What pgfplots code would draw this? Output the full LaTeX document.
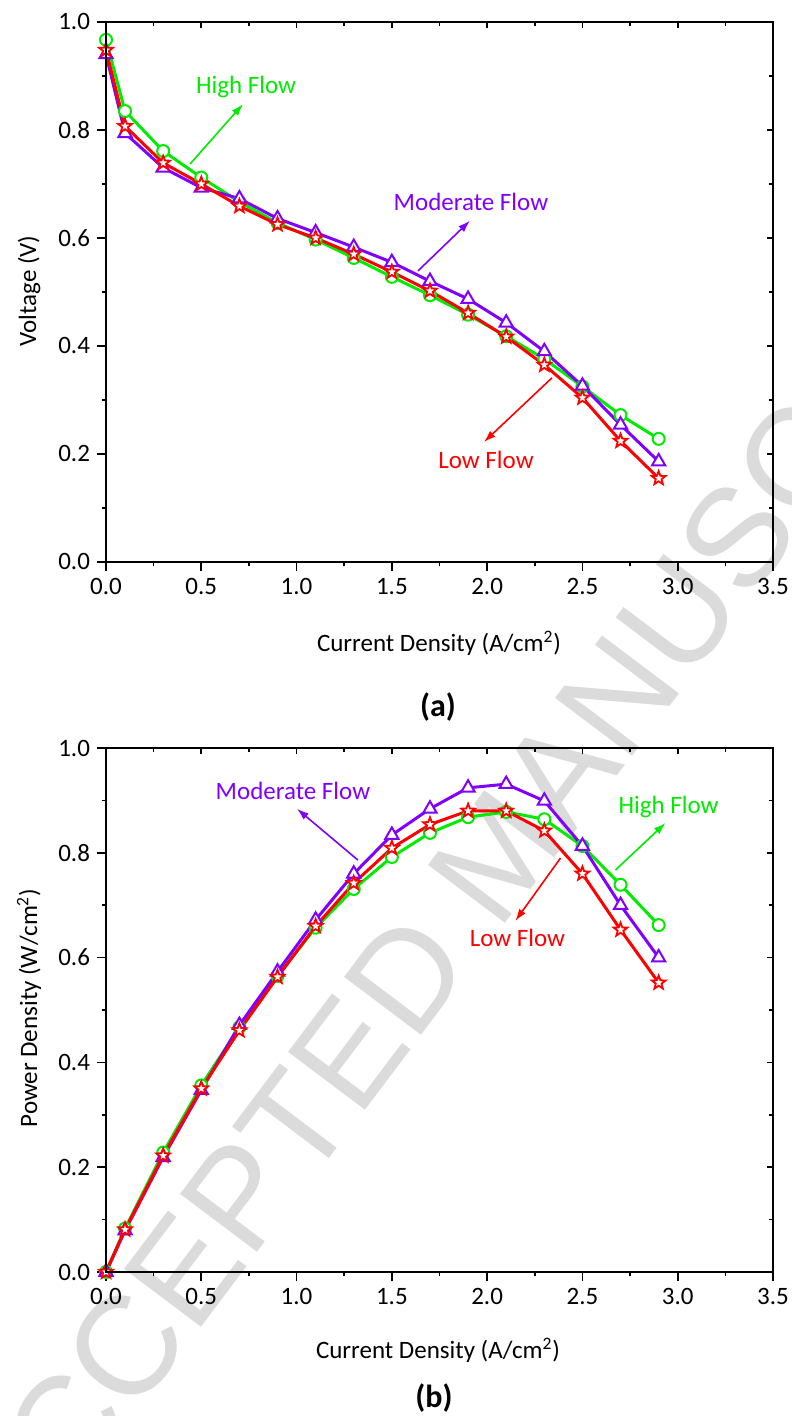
\documentclass[border=0pt]{standalone}
\usepackage{pgfplots}
\pgfplotsset{compat=1.18}
\usepackage{fontspec}
\setmainfont{Carlito}
\newfontfamily\wmfont{Liberation Sans}
\usetikzlibrary{arrows.meta}

\definecolor{gc}{RGB}{0,235,0}
\definecolor{pc}{RGB}{128,0,255}
\definecolor{rc}{RGB}{255,0,0}
\newcommand\lblfont{\fontsize{12.5}{15}\selectfont}

% outlined five-pointed star
\pgfdeclareplotmark{ostar}{%
  \pgfpathmoveto{\pgfpointpolar{90}{\pgfplotmarksize}}%
  \pgfpathlineto{\pgfpointpolar{126}{0.42\pgfplotmarksize}}%
  \pgfpathlineto{\pgfpointpolar{162}{\pgfplotmarksize}}%
  \pgfpathlineto{\pgfpointpolar{198}{0.42\pgfplotmarksize}}%
  \pgfpathlineto{\pgfpointpolar{234}{\pgfplotmarksize}}%
  \pgfpathlineto{\pgfpointpolar{270}{0.42\pgfplotmarksize}}%
  \pgfpathlineto{\pgfpointpolar{306}{\pgfplotmarksize}}%
  \pgfpathlineto{\pgfpointpolar{342}{0.42\pgfplotmarksize}}%
  \pgfpathlineto{\pgfpointpolar{18}{\pgfplotmarksize}}%
  \pgfpathlineto{\pgfpointpolar{54}{0.42\pgfplotmarksize}}%
  \pgfpathclose
  \pgfusepathqfillstroke
}

\tikzset{ann/.style={line width=0.8pt, -{Latex[length=6pt,width=4pt]}}}

\pgfplotsset{
  fcbase/.style={
    scale only axis,
    width=333.5pt,
    xmin=0, xmax=3.5, ymin=0, ymax=1,
    xtick={0,0.5,1,1.5,2,2.5,3,3.5},
    ytick={0,0.2,0.4,0.6,0.8,1},
    minor x tick num=1, minor y tick num=1,
    axis line style={line width=1pt},
    tick style={black, line width=0.8pt},
    tick label style={font=\lblfont},
  },
  fcmain/.style={
    fcbase,
    xticklabels={0.0,0.5,1.0,1.5,2.0,2.5,3.0,3.5},
    yticklabels={0.0,0.2,0.4,0.6,0.8,1.0},
    xtick pos=bottom, ytick pos=left,
    tick align=outside,
    major tick length=4.5pt, minor tick length=2.2pt,
  },
  fcover/.style={
    fcbase,
    xticklabels={}, yticklabels={},
    xtick pos=top, ytick pos=right,
    tick align=inside,
    major tick length=2.8pt, minor tick length=1.8pt,
  },
  hi/.style={gc, line width=1.5pt, mark=*, mark size=3pt,
    mark options={fill=white, line width=1pt, solid}},
  mo/.style={pc, line width=1.5pt, mark=triangle*, mark size=3.8pt,
    mark options={fill=white, line width=1pt, solid}},
  lo/.style={rc, line width=1.5pt, mark=ostar, mark size=3.6pt,
    mark options={fill=white, line width=0.9pt, solid}},
}

\begin{document}
\begin{tikzpicture}
\path[use as bounding box] (0,0) rectangle (395.5pt,708pt);

% watermark
\begin{scope}
\clip (0,0) rectangle (395.5pt,708pt);
\node[text=black!14, font=\wmfont\fontsize{70}{70}\selectfont, rotate=53]
  at (249pt,281pt) {ACCEPTED MANUSCRIPT};
\end{scope}

% (a) voltage
\begin{axis}[fcmain, at={(53pt,427pt)}, anchor=south west, height=270pt]
\addplot[hi] coordinates {(0,0.967) (0.1,0.835) (0.3,0.761) (0.5,0.712) (0.7,0.667) (0.9,0.628) (1.1,0.597) (1.3,0.563) (1.5,0.528) (1.7,0.494) (1.9,0.458) (2.1,0.418) (2.3,0.376) (2.5,0.325) (2.7,0.272) (2.9,0.228)};
\addplot[mo] coordinates {(0,0.940) (0.1,0.794) (0.3,0.730) (0.5,0.693) (0.7,0.673) (0.9,0.636) (1.1,0.610) (1.3,0.583) (1.5,0.555) (1.7,0.520) (1.9,0.487) (2.1,0.443) (2.3,0.390) (2.5,0.326) (2.7,0.254) (2.9,0.186)};
\addplot[lo] coordinates {(0,0.948) (0.1,0.807) (0.3,0.739) (0.5,0.700) (0.7,0.659) (0.9,0.625) (1.1,0.600) (1.3,0.570) (1.5,0.537) (1.7,0.502) (1.9,0.461) (2.1,0.417) (2.3,0.365) (2.5,0.304) (2.7,0.224) (2.9,0.155)};
\draw[gc, ann] (axis cs:0.441,0.737) -- (axis cs:0.719,0.848);
\node[text=gc, font=\lblfont] at (axis cs:0.735,0.880) {High Flow};
\draw[pc, ann] (axis cs:1.637,0.539) -- (axis cs:1.910,0.632);
\node[text=pc, font=\lblfont] at (axis cs:1.915,0.667) {Moderate Flow};
\draw[rc, ann] (axis cs:2.340,0.341) -- (axis cs:1.983,0.222);
\node[text=rc, font=\lblfont] at (axis cs:1.994,0.189) {Low Flow};
\end{axis}
\begin{axis}[fcover, at={(53pt,427pt)}, anchor=south west, height=270pt]
\end{axis}

% (b) power density
\begin{axis}[fcmain, at={(53pt,72pt)}, anchor=south west, height=262pt]
\addplot[hi] coordinates {(0,0) (0.1,0.083) (0.3,0.228) (0.5,0.356) (0.7,0.467) (0.9,0.565) (1.1,0.657) (1.3,0.731) (1.5,0.792) (1.7,0.838) (1.9,0.868) (2.1,0.878) (2.3,0.864) (2.5,0.813) (2.7,0.739) (2.9,0.662)};
\addplot[mo] coordinates {(0,0) (0.1,0.079) (0.3,0.219) (0.5,0.347) (0.7,0.471) (0.9,0.573) (1.1,0.672) (1.3,0.760) (1.5,0.834) (1.7,0.884) (1.9,0.924) (2.1,0.931) (2.3,0.899) (2.5,0.813) (2.7,0.700) (2.9,0.600)};
\addplot[lo] coordinates {(0,0) (0.1,0.081) (0.3,0.222) (0.5,0.350) (0.7,0.461) (0.9,0.563) (1.1,0.660) (1.3,0.742) (1.5,0.809) (1.7,0.854) (1.9,0.880) (2.1,0.880) (2.3,0.842) (2.5,0.760) (2.7,0.653) (2.9,0.552)};
\draw[pc, ann] (axis cs:1.322,0.786) -- (axis cs:1.002,0.884);
\node[text=pc, font=\lblfont] at (axis cs:0.981,0.918) {Moderate Flow};
\draw[gc, ann] (axis cs:2.673,0.767) -- (axis cs:2.936,0.857);
\node[text=gc, font=\lblfont] at (axis cs:2.952,0.887) {High Flow};
\draw[rc, ann] (axis cs:2.385,0.790) -- (axis cs:2.148,0.670);
\node[text=rc, font=\lblfont] at (axis cs:2.159,0.637) {Low Flow};
\end{axis}
\begin{axis}[fcover, at={(53pt,72pt)}, anchor=south west, height=262pt]
\end{axis}

% labels
\node[font=\lblfont] at (219.5pt,386.5pt) {Current Density (A/cm\textsuperscript{2})};
\node[font=\lblfont] at (219pt,33pt) {Current Density (A/cm\textsuperscript{2})};
\node[font=\lblfont, rotate=90, anchor=base] at (18pt,562.5pt) {Voltage (V)};
\node[font=\lblfont, rotate=90, anchor=base] at (18.5pt,204pt) {Power Density (W/cm\textsuperscript{2})};
\node[font=\bfseries\fontsize{16}{19}\selectfont] at (219pt,354.5pt) {(a)};
\node[font=\bfseries\fontsize{16}{19}\selectfont] at (217pt,9pt) {(b)};
\end{tikzpicture}
\end{document}
